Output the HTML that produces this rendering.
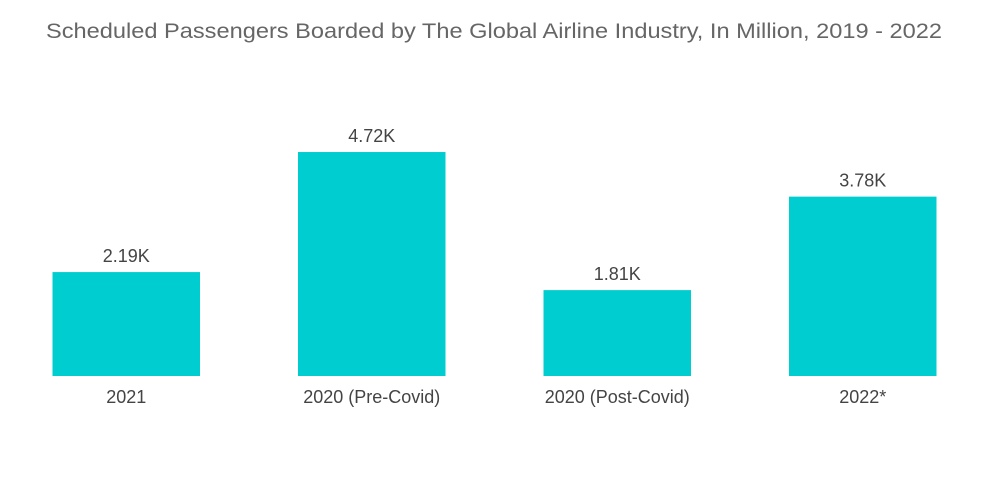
<!DOCTYPE html>
<html><head><meta charset="utf-8"><style>
html,body{margin:0;padding:0;background:#fff;width:1000px;height:504px;overflow:hidden}
text{font-family:"Liberation Sans",sans-serif}
</style></head><body>
<svg id="chart" width="1000" height="504" viewBox="0 0 1000 504" xmlns="http://www.w3.org/2000/svg">
<text x="494" y="38" text-anchor="middle" font-size="21" fill="#666" textLength="896" lengthAdjust="spacingAndGlyphs">Scheduled Passengers Boarded by The Global Airline Industry, In Million, 2019 - 2022</text>
<g id="bars"></g>
</svg>
<script>
const categories = ["2021", "2020 (Pre-Covid)", "2020 (Post-Covid)", "2022*"];
const values = [2.19, 4.72, 1.81, 3.78];
const valueLabels = ["2.19K", "4.72K", "1.81K", "3.78K"];

const baseY = 376, pxPerUnit = 47.45, firstX = 52.5, band = 245.5, barW = 147.5;
function x(i){ return firstX + band*i; }
function y(v){ return baseY - v*pxPerUnit; }
const NS = "http://www.w3.org/2000/svg";
const g = document.getElementById("bars");
categories.forEach((c,i)=>{
  const r = document.createElementNS(NS,"rect");
  
  
  r.setAttribute("x", x(i)); r.setAttribute("y", y(values[i]));
  r.setAttribute("width", barW); r.setAttribute("height", baseY - y(values[i]));
  r.setAttribute("fill", "#00cdd0");
  g.appendChild(r);
  const vl = document.createElementNS(NS,"text");
  
  
  vl.setAttribute("x", x(i)+barW/2); vl.setAttribute("y", y(values[i]) - 10);
  vl.setAttribute("text-anchor","middle"); vl.setAttribute("font-size","18"); vl.setAttribute("fill","#444");
  vl.textContent = valueLabels[i];
  g.appendChild(vl);
  const cl = document.createElementNS(NS,"text");
  
  
  cl.setAttribute("x", x(i)+barW/2); cl.setAttribute("y", 403);
  cl.setAttribute("text-anchor","middle"); cl.setAttribute("font-size","18"); cl.setAttribute("fill","#444");
  cl.textContent = c;
  g.appendChild(cl);
});
</script>
</body></html>
